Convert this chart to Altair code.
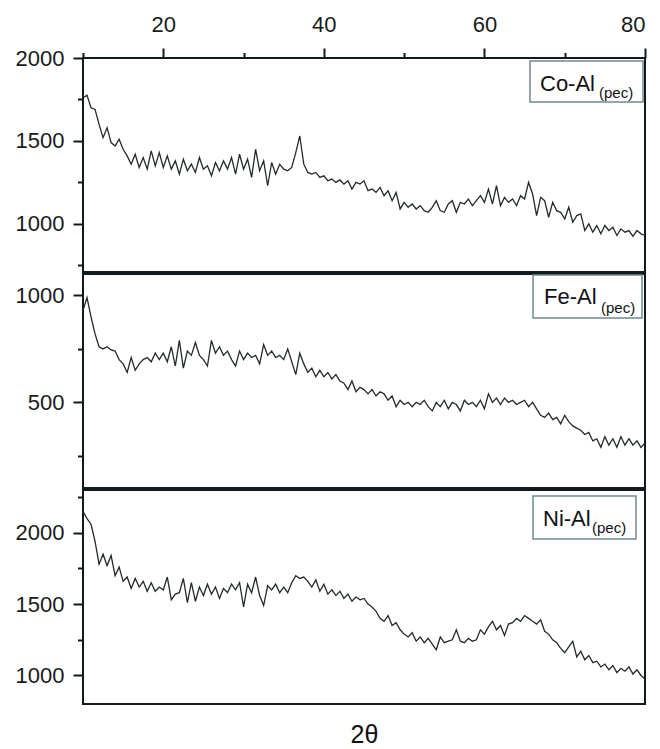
import altair as alt
import pandas as pd

# 2-theta grid (degrees)
two_theta = [10 + 0.5 * i for i in range(141)]

co_al = [1760, 1775, 1700, 1690, 1600, 1520, 1580, 1490, 1470, 1510,
         1450, 1410, 1360, 1420, 1340, 1400, 1330, 1440, 1350, 1430,
         1340, 1410, 1330, 1380, 1300, 1390, 1320, 1360, 1310, 1400,
         1330, 1350, 1290, 1370, 1320, 1380, 1330, 1400, 1300, 1420,
         1330, 1390, 1280, 1450, 1320, 1380, 1230, 1370, 1300, 1360,
         1330, 1320, 1340, 1430, 1530, 1360, 1310, 1300, 1310, 1280,
         1290, 1260, 1270, 1250, 1265, 1240, 1260, 1210, 1250, 1240,
         1260, 1200, 1210, 1190, 1220, 1170, 1200, 1140, 1190, 1090,
         1130, 1100, 1120, 1090, 1110, 1080, 1070, 1100, 1140, 1080,
         1070, 1120, 1140, 1070, 1130, 1120, 1150, 1110, 1140, 1170,
         1130, 1210, 1120, 1230, 1110, 1160, 1130, 1150, 1110, 1170,
         1150, 1250, 1180, 1050, 1160, 1140, 1040, 1130, 1080, 1070,
         1030, 1100, 1010, 1050, 1060, 960, 1000, 950, 990, 940,
         990, 960, 980, 930, 970, 950, 960, 925, 960, 940,
         930]

fe_al = [930, 990, 900, 820, 760, 750, 760, 745, 740, 700,
         680, 640, 710, 650, 680, 700, 710, 690, 730, 700,
         730, 690, 760, 670, 790, 660, 740, 720, 780, 720,
         700, 670, 790, 730, 760, 720, 740, 700, 670, 740,
         700, 730, 710, 720, 680, 770, 720, 740, 710, 720,
         700, 750, 690, 630, 730, 680, 640, 660, 620, 650,
         620, 640, 610, 630, 600, 590, 560, 600, 550, 570,
         560, 540, 560, 530, 550, 540, 510, 530, 480, 510,
         490, 500, 480, 500, 490, 510, 480, 460, 500, 480,
         510, 470, 500, 490, 460, 510, 490, 500, 480, 510,
         470, 540, 500, 520, 490, 520, 500, 510, 490, 500,
         510, 480, 500, 470, 440, 430, 450, 420, 430, 400,
         440, 410, 390, 380, 370, 350, 360, 320, 330, 290,
         340, 300, 330, 290, 340, 300, 330, 300, 320, 290,
         310]

ni_al = [2150, 2100, 2060, 1940, 1780, 1850, 1770, 1840, 1700, 1760,
         1660, 1690, 1610, 1680, 1620, 1660, 1590, 1650, 1590, 1620,
         1600, 1690, 1530, 1570, 1580, 1680, 1510, 1650, 1520, 1620,
         1560, 1640, 1570, 1620, 1540, 1610, 1580, 1640, 1600, 1650,
         1480, 1640, 1580, 1690, 1560, 1490, 1630, 1600, 1640, 1580,
         1620, 1580, 1650, 1700, 1680, 1690, 1660, 1620, 1670, 1590,
         1640, 1570, 1600, 1560, 1590, 1540, 1570, 1520, 1550, 1530,
         1540, 1500, 1480, 1450, 1400, 1380, 1420, 1350, 1370, 1320,
         1290, 1270, 1300, 1240, 1270, 1230, 1260, 1220, 1180, 1270,
         1230, 1240, 1250, 1320, 1240, 1230, 1260, 1240, 1250, 1320,
         1290, 1340, 1380, 1320, 1350, 1280, 1360, 1370, 1400, 1380,
         1420, 1400, 1380, 1360, 1390, 1310, 1290, 1250, 1230, 1190,
         1160, 1200, 1240, 1130, 1170, 1110, 1140, 1090, 1100, 1060,
         1080, 1040, 1070, 1020, 1050, 1030, 1060, 1010, 1040, 1000,
         975]

names = ["Co-Al", "Fe-Al", "Ni-Al"]
series = [co_al, fe_al, ni_al]
y_domains = [[710, 2000], [100, 1100], [800, 2300]]
y_ticks = [[750, 1000, 1250, 1500, 1750, 2000],
           [250, 500, 750, 1000],
           [1000, 1250, 1500, 1750, 2000, 2250]]
x_ticks = [10, 20, 30, 40, 50, 60, 70, 80]

FONT = "Liberation Sans"
W, H = 562, 214
LINE_COLOR = "#222a2c"
BOX_COLOR = "#6f8a8f"
FRAME = "#111a1c"

# legend box geometry (pixels inside each panel)
boxes = [(447, 560, 3, 44), (450, 559, 1, 44), (450, 553, 6, 49)]
label_pos = [(457, 33, 516, 40), (461, 30, 518, 39), (460, 36, 509, 43)]


def panel(i):
    df = pd.DataFrame({"x": two_theta, "y": series[i]})
    if i == 0:
        xaxis = alt.Axis(orient="top", values=x_ticks, title=None,
                         labelExpr="datum.value % 20 == 0 ? datum.label : ''",
                         tickSize={"condition": {"test": "datum.value % 20 == 0", "value": 10}, "value": 5.5},
                         labelPadding=12, labelFontSize=22, grid=False, domain=False)
    elif i == 2:
        xaxis = alt.Axis(orient="bottom", labels=False, ticks=False, domain=False,
                         grid=False, title="2θ", titleFontSize=25, titleFont=FONT,
                         titleFontWeight="normal", titlePadding=18, titleColor="#111")
    else:
        xaxis = None
    yaxis = alt.Axis(values=y_ticks[i], title=None, format="d",
                     labelExpr="datum.value % 500 == 0 ? datum.label : ''",
                     tickSize={"condition": {"test": "datum.value % 500 == 0", "value": 10}, "value": 5.5},
                     labelPadding=9, labelFontSize=22, grid=False, domain=False)
    line = alt.Chart(df).mark_line(color=LINE_COLOR, strokeWidth=1.3).encode(
        x=alt.X("x:Q", scale=alt.Scale(domain=[10, 80], nice=False, zero=False), axis=xaxis),
        y=alt.Y("y:Q", scale=alt.Scale(domain=y_domains[i], nice=False, zero=False), axis=yaxis),
    )
    lab = pd.DataFrame({"main": [names[i]], "sub": ["(pec)"]})
    bx0, bx1, by0, by1 = boxes[i]
    box = alt.Chart(lab).mark_rect(fill="white", stroke=BOX_COLOR, strokeWidth=1.5).encode(
        x=alt.value(bx0), x2=alt.value(bx1), y=alt.value(by0), y2=alt.value(by1))
    mx, my, sx, sy = label_pos[i]
    main = alt.Chart(lab).mark_text(align="left", baseline="alphabetic", font=FONT,
                                    fontSize=22, color="#111").encode(
        x=alt.value(mx), y=alt.value(my), text="main:N")
    sub = alt.Chart(lab).mark_text(align="left", baseline="alphabetic", font=FONT,
                                   fontSize=15, color="#111").encode(
        x=alt.value(sx), y=alt.value(sy), text="sub:N")
    return alt.layer(line, box, main, sub).properties(
        width=W, height=H, view=alt.ViewBackground(stroke=FRAME, strokeWidth=2))


chart = alt.vconcat(
    panel(0), panel(1), panel(2), spacing=0,
    padding={"left": 14, "top": 12, "right": 5, "bottom": 0}, background="white",
).configure_view(
    stroke=FRAME, strokeWidth=2
).configure_axis(
    labelFont=FONT, labelColor="#1a1a1a", tickColor=FRAME, tickWidth=2,
)

chart.save("out.html", embed_options={"renderer": "svg", "actions": False})
